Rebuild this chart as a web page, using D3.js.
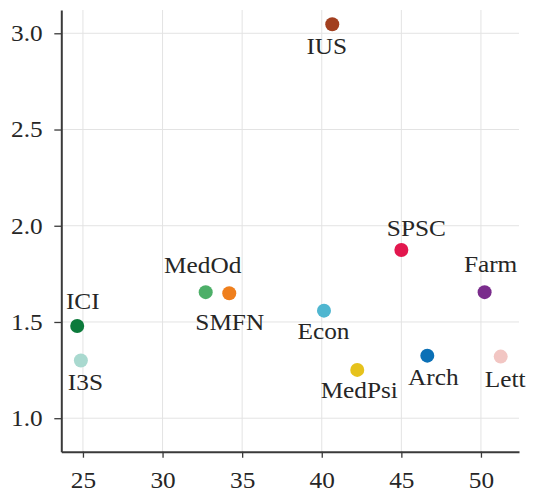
<!DOCTYPE html>
<html>
<head>
<meta charset="utf-8">
<script src="https://cdn.jsdelivr.net/npm/d3@7"></script>
<style>
  html, body { margin: 0; padding: 0; background: #ffffff; }
  svg { display: block; }
</style>
</head>
<body>
<svg id="chart" width="534" height="497"></svg>
<script>
// Faculty scatter: x and y measures per department
const names   = ["IUS", "SPSC", "Farm", "Econ", "MedPsi", "Arch", "Lett", "ICI", "I3S", "MedOd", "SMFN"];
const xValues = [40.66, 45.0, 50.23, 40.14, 42.23, 46.63, 51.24, 24.64, 24.87, 32.71, 34.19];
const yValues = [3.047, 1.874, 1.655, 1.559, 1.251, 1.325, 1.32, 1.479, 1.30, 1.655, 1.649];
const colors  = ["#a23f1f", "#e2174e", "#7a2c8c", "#4fb6d0", "#e6c21c", "#0b70b6", "#f2c6c3", "#0c7a3b", "#a9d9cf", "#4daf68", "#ef7f1d"];

const xTicks = [25, 30, 35, 40, 45, 50];
const yTicks = [1.0, 1.5, 2.0, 2.5, 3.0];

const fontFamily = "'Liberation Serif'";
const fontSize = "23px";
const stretch = 1.1;   // slightly wide lettering

// Label placement relative to each point (repel-style nudges)
const labelNudge = {
  IUS:    [-5.5, 30],
  SPSC:   [15, -14],
  Farm:   [6, -20],
  Econ:   [-0.5, 28.5],
  MedPsi: [2, 28],
  Arch:   [6, 29],
  Lett:   [4.5, 30.5],
  ICI:    [5.5, -17.5],
  I3S:    [4.5, 29.5],
  MedOd:  [-3, -19.5],
  SMFN:   [0.5, 37]
};

const svg = d3.select("#chart");
const plotLeft = 61.3, plotRight = 519, plotTop = 10, plotBottom = 451.7;

const x = d3.scaleLinear().domain([23.64, 52.39]).range([plotLeft, plotRight]);
const y = d3.scaleLinear().domain([0.826, 3.121]).range([plotBottom, plotTop]);

// grid
const grid = svg.append("g").attr("stroke", "#e3e3e3").attr("stroke-width", 1);
grid.selectAll("line.v").data(xTicks).join("line")
  .attr("class", "v")
  .attr("x1", d => x(d)).attr("x2", d => x(d))
  .attr("y1", plotTop).attr("y2", plotBottom);
grid.selectAll("line.h").data(yTicks).join("line")
  .attr("class", "h")
  .attr("x1", plotLeft).attr("x2", plotRight)
  .attr("y1", d => y(d)).attr("y2", d => y(d));

// axes
const xAxis = d3.axisBottom(x).tickValues(xTicks).tickFormat(d3.format("d"))
  .tickSizeInner(6).tickSizeOuter(0).tickPadding(14);
const yAxis = d3.axisLeft(y).tickValues(yTicks).tickFormat(d3.format(".1f"))
  .tickSizeInner(7).tickSizeOuter(0).tickPadding(10);

const gx = svg.append("g").attr("transform", `translate(0,${plotBottom})`).call(xAxis);
const gy = svg.append("g").attr("transform", `translate(${plotLeft},0)`).call(yAxis);

[gx, gy].forEach(g => {
  g.attr("font-family", null).attr("font-size", null);
  g.select(".domain").attr("stroke", "#3a3a3a").attr("stroke-width", 2);
  g.selectAll(".tick line").attr("stroke", "#3a3a3a").attr("stroke-width", 1.3);
  g.selectAll(".tick text")
    .style("font-family", fontFamily)
    .style("font-size", fontSize)
    .attr("fill", "#262626")
    .attr("transform", `scale(${stretch},1)`);
});

// points
const idx = d3.range(names.length);
svg.append("g").selectAll("circle").data(idx).join("circle")
  .attr("cx", i => x(xValues[i]))
  .attr("cy", i => y(yValues[i]))
  .attr("r", 7)
  .attr("fill", i => colors[i]);

// labels
svg.append("g").selectAll("text").data(idx).join("text")
  .attr("transform", i => {
    const [dx, dy] = labelNudge[names[i]];
    return `translate(${x(xValues[i]) + dx},${y(yValues[i]) + dy}) scale(${stretch},1)`;
  })
  .attr("text-anchor", "middle")
  .style("font-family", fontFamily)
  .style("font-size", fontSize)
  .attr("fill", "#262626")
  .text(i => names[i]);
</script>
</body>
</html>
